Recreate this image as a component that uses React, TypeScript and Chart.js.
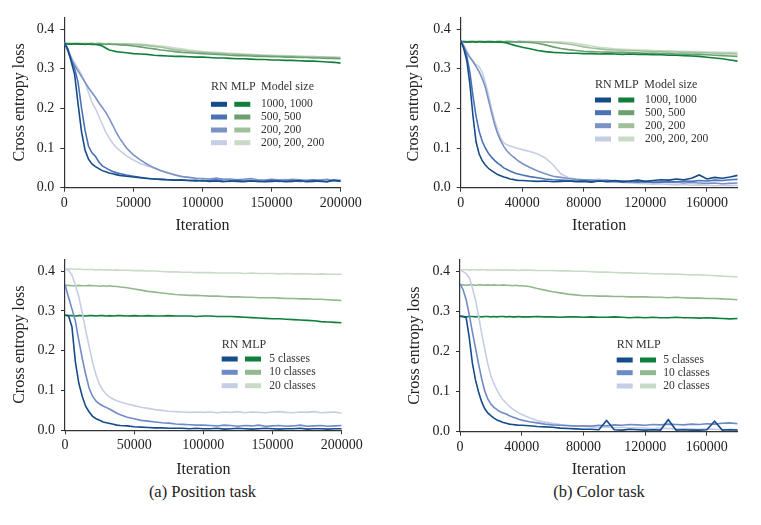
import React, { useEffect, useRef } from "react";
import { Chart, registerables } from "chart.js";

Chart.register(...registerables);

// ---------- shared text ----------
const Y_TITLE = "Cross entropy loss";
const X_TITLE = "Iteration";
const MODEL_SIZES = ["1000, 1000", "500, 500", "200, 200", "200, 200, 200"];
const CLASS_LABELS = ["5 classes", "10 classes", "20 classes"];
const CAPTIONS = ["(a) Position task", "(b) Color task"];

// ---------- tick values ----------
const Y_TICKS = [0, 0.1, 0.2, 0.3, 0.4];
const POS_X_TICKS = [0, 50000, 100000, 150000, 200000];
const COL_X_TICKS = [0, 40000, 80000, 120000, 160000];

// ---------- iterations ----------
// position task: 0–40000 every 2500, then every 5000 up to 200000
const P_ITER = [
  0, 2500, 5000, 7500, 10000, 12500, 15000, 17500, 20000, 22500, 25000, 27500, 30000, 32500, 35000, 37500, 40000,
  45000, 50000, 55000, 60000, 65000, 70000, 75000, 80000,
  85000, 90000, 95000, 100000, 105000, 110000, 115000, 120000,
  125000, 130000, 135000, 140000, 145000, 150000, 155000, 160000,
  165000, 170000, 175000, 180000, 185000, 190000, 195000, 200000,
];
// color task: 0–40000 every 2000, then every 5000 up to 180000
const C_ITER = [
  0, 2000, 4000, 6000, 8000, 10000, 12000, 14000, 16000, 18000, 20000, 22000, 24000, 26000, 28000, 30000, 32000, 34000, 36000, 38000, 40000,
  45000, 50000, 55000, 60000, 65000, 70000, 75000,
  80000, 85000, 90000, 95000, 100000, 105000, 110000,
  115000, 120000, 125000, 130000, 135000, 140000, 145000,
  150000, 155000, 160000, 165000, 170000, 175000, 180000,
];

// ---------- (a) position task, model size ----------
const POS_RN_1000 = [
  0.366, 0.348, 0.318, 0.285, 0.21, 0.14, 0.095, 0.072, 0.06, 0.053, 0.048, 0.043, 0.04, 0.037, 0.035, 0.033, 0.031,
  0.029, 0.027, 0.025, 0.023, 0.022, 0.021, 0.02, 0.019,
  0.019, 0.018, 0.017, 0.018, 0.016, 0.017, 0.015, 0.017,
  0.016, 0.015, 0.017, 0.016, 0.015, 0.016, 0.017, 0.015,
  0.016, 0.018, 0.015, 0.016, 0.017, 0.015, 0.019, 0.016,
];
const POS_RN_500 = [
  0.366, 0.35, 0.325, 0.3, 0.265, 0.2, 0.145, 0.105, 0.088, 0.079, 0.065, 0.055, 0.05, 0.045, 0.041, 0.038, 0.036,
  0.032, 0.029, 0.026, 0.024, 0.022, 0.021, 0.02, 0.019,
  0.02, 0.018, 0.019, 0.017, 0.018, 0.02, 0.017, 0.016,
  0.019, 0.017, 0.018, 0.016, 0.017, 0.019, 0.016, 0.017,
  0.018, 0.016, 0.017, 0.019, 0.016, 0.015, 0.018, 0.017,
];
const POS_RN_200 = [
  0.366, 0.345, 0.322, 0.308, 0.294, 0.28, 0.266, 0.252, 0.24, 0.228, 0.214, 0.202, 0.19, 0.175, 0.158, 0.14, 0.125,
  0.1, 0.083, 0.07, 0.059, 0.05, 0.043, 0.037, 0.032,
  0.028, 0.026, 0.024, 0.023, 0.022, 0.024, 0.021, 0.022,
  0.02, 0.021, 0.023, 0.02, 0.019, 0.021, 0.02, 0.019,
  0.021, 0.02, 0.018, 0.02, 0.019, 0.021, 0.018, 0.019,
];
const POS_RN_200x3 = [
  0.366, 0.35, 0.33, 0.315, 0.3, 0.285, 0.265, 0.24, 0.215, 0.2, 0.18, 0.16, 0.14, 0.125, 0.112, 0.102, 0.094,
  0.08, 0.07, 0.061, 0.055, 0.049, 0.043, 0.038, 0.033,
  0.029, 0.026, 0.024, 0.022, 0.021, 0.02, 0.022, 0.019,
  0.02, 0.021, 0.019, 0.02, 0.018, 0.02, 0.019, 0.021,
  0.018, 0.019, 0.02, 0.018, 0.019, 0.02, 0.018, 0.019,
];
const POS_MLP_1000 = [
  0.363, 0.362, 0.362, 0.363, 0.362, 0.362, 0.361, 0.362, 0.361, 0.361, 0.36, 0.357, 0.352, 0.347, 0.345, 0.343, 0.342,
  0.34, 0.338, 0.337, 0.336, 0.334, 0.333, 0.332, 0.331,
  0.331, 0.33, 0.329, 0.329, 0.328, 0.327, 0.327, 0.326,
  0.325, 0.325, 0.324, 0.323, 0.323, 0.322, 0.322, 0.321,
  0.321, 0.32, 0.319, 0.319, 0.318, 0.317, 0.316, 0.314,
];
const POS_MLP_500 = [
  0.363, 0.363, 0.362, 0.363, 0.363, 0.362, 0.363, 0.362, 0.363, 0.362, 0.362, 0.362, 0.361, 0.362, 0.361, 0.361, 0.36,
  0.359, 0.357, 0.355, 0.352, 0.35, 0.347, 0.345, 0.343,
  0.341, 0.34, 0.339, 0.338, 0.337, 0.336, 0.335, 0.334,
  0.333, 0.333, 0.332, 0.331, 0.331, 0.33, 0.33, 0.329,
  0.329, 0.328, 0.328, 0.327, 0.327, 0.326, 0.326, 0.325,
];
const POS_MLP_200 = [
  0.364, 0.364, 0.363, 0.364, 0.364, 0.363, 0.364, 0.363, 0.364, 0.363, 0.364, 0.363, 0.363, 0.363, 0.362, 0.363, 0.362,
  0.362, 0.361, 0.36, 0.358, 0.356, 0.354, 0.351, 0.348,
  0.346, 0.344, 0.342, 0.341, 0.34, 0.339, 0.338, 0.337,
  0.336, 0.335, 0.335, 0.334, 0.333, 0.333, 0.332, 0.331,
  0.331, 0.33, 0.33, 0.329, 0.329, 0.328, 0.328, 0.327,
];
const POS_MLP_200x3 = [
  0.364, 0.364, 0.364, 0.363, 0.364, 0.364, 0.363, 0.364, 0.364, 0.363, 0.364, 0.364, 0.363, 0.364, 0.363, 0.363, 0.363,
  0.363, 0.362, 0.362, 0.361, 0.359, 0.357, 0.355, 0.352,
  0.35, 0.347, 0.345, 0.343, 0.342, 0.341, 0.34, 0.339,
  0.338, 0.337, 0.336, 0.335, 0.334, 0.334, 0.333, 0.333,
  0.332, 0.332, 0.331, 0.331, 0.33, 0.33, 0.329, 0.329,
];

// ---------- (b) color task, model size ----------
const COL_RN_1000 = [
  0.371, 0.35, 0.32, 0.26, 0.18, 0.115, 0.085, 0.068, 0.057, 0.049, 0.043, 0.038, 0.033, 0.03, 0.027, 0.025, 0.022, 0.021, 0.019, 0.018, 0.018,
  0.017, 0.016, 0.017, 0.015, 0.016, 0.017, 0.015,
  0.016, 0.014, 0.017, 0.016, 0.018, 0.016, 0.017,
  0.019, 0.016, 0.018, 0.02, 0.019, 0.022, 0.02,
  0.024, 0.032, 0.022, 0.026, 0.024, 0.027, 0.031,
];
const COL_RN_500 = [
  0.371, 0.355, 0.33, 0.29, 0.23, 0.18, 0.142, 0.117, 0.1, 0.087, 0.077, 0.069, 0.062, 0.056, 0.05, 0.046, 0.042, 0.039, 0.036, 0.034, 0.032,
  0.028, 0.025, 0.022, 0.02, 0.019, 0.018, 0.017,
  0.018, 0.016, 0.017, 0.015, 0.016, 0.014, 0.015,
  0.014, 0.015, 0.013, 0.014, 0.016, 0.015, 0.017,
  0.016, 0.018, 0.017, 0.019, 0.018, 0.02, 0.021,
];
const COL_RN_200 = [
  0.371, 0.355, 0.34, 0.328, 0.318, 0.305, 0.292, 0.275, 0.253, 0.222, 0.19, 0.16, 0.136, 0.118, 0.104, 0.093, 0.085, 0.078, 0.072, 0.066, 0.061,
  0.051, 0.042, 0.035, 0.029, 0.026, 0.023, 0.021,
  0.02, 0.019, 0.018, 0.019, 0.017, 0.016, 0.017,
  0.015, 0.016, 0.014, 0.015, 0.013, 0.014, 0.012,
  0.013, 0.012, 0.011, 0.012, 0.01, 0.011, 0.012,
];
const COL_RN_200x3 = [
  0.371, 0.36, 0.345, 0.33, 0.318, 0.31, 0.305, 0.29, 0.265, 0.235, 0.2, 0.17, 0.145, 0.125, 0.113, 0.108, 0.105, 0.103, 0.1, 0.098, 0.096,
  0.091, 0.085, 0.075, 0.058, 0.035, 0.025, 0.022,
  0.02, 0.019, 0.022, 0.016, 0.015, 0.013, 0.012,
  0.011, 0.01, 0.009, 0.01, 0.008, 0.007, 0.008,
  0.006, 0.007, 0.006, 0.005, 0.006, 0.005, 0.006,
];
const COL_MLP_1000 = [
  0.368, 0.368, 0.367, 0.368, 0.368, 0.367, 0.368, 0.368, 0.367, 0.368, 0.367, 0.368, 0.367, 0.367, 0.366, 0.365, 0.362, 0.36, 0.358, 0.356, 0.354,
  0.35, 0.346, 0.343, 0.341, 0.34, 0.339, 0.339,
  0.338, 0.338, 0.337, 0.338, 0.337, 0.336, 0.337,
  0.336, 0.336, 0.335, 0.335, 0.334, 0.334, 0.333,
  0.332, 0.331, 0.329, 0.327, 0.325, 0.322, 0.319,
];
const COL_MLP_500 = [
  0.368, 0.368, 0.368, 0.367, 0.368, 0.368, 0.368, 0.367, 0.368, 0.368, 0.367, 0.368, 0.368, 0.367, 0.368, 0.368, 0.367, 0.368, 0.367, 0.367, 0.367,
  0.366, 0.364, 0.36, 0.355, 0.351, 0.348, 0.346,
  0.344, 0.343, 0.342, 0.342, 0.341, 0.341, 0.34,
  0.34, 0.339, 0.339, 0.338, 0.338, 0.337, 0.337,
  0.336, 0.336, 0.335, 0.334, 0.333, 0.332, 0.331,
];
const COL_MLP_200 = [
  0.369, 0.369, 0.368, 0.369, 0.369, 0.368, 0.369, 0.369, 0.368, 0.369, 0.369, 0.368, 0.369, 0.369, 0.368, 0.369, 0.369, 0.368, 0.368, 0.369, 0.368,
  0.368, 0.368, 0.367, 0.366, 0.364, 0.362, 0.359,
  0.355, 0.352, 0.35, 0.348, 0.347, 0.346, 0.345,
  0.345, 0.344, 0.343, 0.343, 0.342, 0.342, 0.341,
  0.341, 0.34, 0.34, 0.339, 0.338, 0.338, 0.337,
];
const COL_MLP_200x3 = [
  0.369, 0.369, 0.369, 0.368, 0.369, 0.369, 0.369, 0.368, 0.369, 0.369, 0.369, 0.368, 0.369, 0.369, 0.368, 0.369, 0.369, 0.369, 0.368, 0.369, 0.369,
  0.369, 0.368, 0.368, 0.368, 0.367, 0.366, 0.364,
  0.36, 0.357, 0.354, 0.352, 0.35, 0.349, 0.348,
  0.347, 0.347, 0.346, 0.345, 0.345, 0.344, 0.344,
  0.343, 0.343, 0.342, 0.342, 0.341, 0.341, 0.341,
];

// ---------- (a) position task, number of classes ----------
const POSC_RN_5 = [
  0.289, 0.288, 0.26, 0.172, 0.118, 0.085, 0.06, 0.046, 0.035, 0.029, 0.025, 0.021, 0.019, 0.017, 0.015, 0.013, 0.012,
  0.011, 0.009, 0.008, 0.007, 0.006, 0.006, 0.005, 0.005,
  0.005, 0.004, 0.005, 0.004, 0.004, 0.005, 0.003, 0.004,
  0.005, 0.004, 0.003, 0.004, 0.005, 0.004, 0.003, 0.004,
  0.004, 0.005, 0.003, 0.004, 0.004, 0.003, 0.004, 0.004,
];
const POSC_RN_10 = [
  0.366, 0.335, 0.305, 0.275, 0.225, 0.18, 0.14, 0.105, 0.085, 0.073, 0.066, 0.061, 0.057, 0.053, 0.048, 0.043, 0.039,
  0.033, 0.029, 0.025, 0.023, 0.021, 0.019, 0.018, 0.016,
  0.015, 0.014, 0.013, 0.013, 0.012, 0.011, 0.013, 0.012,
  0.01, 0.012, 0.011, 0.013, 0.01, 0.011, 0.012, 0.01,
  0.011, 0.013, 0.01, 0.011, 0.012, 0.01, 0.011, 0.012,
];
const POSC_RN_20 = [
  0.405, 0.402, 0.39, 0.365, 0.335, 0.295, 0.25, 0.21, 0.17, 0.138, 0.115, 0.1, 0.09, 0.083, 0.078, 0.074, 0.071,
  0.066, 0.062, 0.058, 0.055, 0.052, 0.05, 0.048, 0.047,
  0.046, 0.045, 0.046, 0.045, 0.046, 0.044, 0.046, 0.045,
  0.047, 0.044, 0.046, 0.045, 0.044, 0.046, 0.047, 0.045,
  0.044, 0.046, 0.045, 0.047, 0.044, 0.045, 0.046, 0.043,
];
const POSC_MLP_5 = [
  0.289, 0.288, 0.288, 0.287, 0.288, 0.288, 0.287, 0.288, 0.288, 0.287, 0.288, 0.288, 0.287, 0.288, 0.287, 0.288, 0.288,
  0.287, 0.288, 0.287, 0.288, 0.287, 0.287, 0.288, 0.287,
  0.287, 0.287, 0.286, 0.287, 0.287, 0.286, 0.286, 0.286,
  0.285, 0.284, 0.283, 0.282, 0.281, 0.28, 0.28, 0.279,
  0.278, 0.277, 0.276, 0.275, 0.273, 0.272, 0.271, 0.27,
];
const POSC_MLP_10 = [
  0.364, 0.364, 0.363, 0.363, 0.364, 0.363, 0.363, 0.364, 0.363, 0.363, 0.362, 0.363, 0.362, 0.363, 0.362, 0.361, 0.36,
  0.358, 0.355, 0.352, 0.349, 0.347, 0.345, 0.343, 0.341,
  0.34, 0.339, 0.339, 0.338, 0.337, 0.337, 0.336, 0.335,
  0.335, 0.334, 0.334, 0.333, 0.333, 0.333, 0.332, 0.331,
  0.331, 0.33, 0.33, 0.329, 0.329, 0.328, 0.327, 0.326,
];
const POSC_MLP_20 = [
  0.405, 0.405, 0.405, 0.404, 0.405, 0.404, 0.404, 0.404, 0.404, 0.403, 0.404, 0.403, 0.403, 0.403, 0.402, 0.403, 0.402,
  0.402, 0.401, 0.401, 0.4, 0.4, 0.399, 0.398, 0.398,
  0.397, 0.397, 0.396, 0.396, 0.396, 0.395, 0.395, 0.395,
  0.395, 0.394, 0.395, 0.394, 0.394, 0.394, 0.393, 0.394,
  0.393, 0.393, 0.393, 0.392, 0.393, 0.392, 0.392, 0.392,
];

// ---------- (b) color task, number of classes ----------
const COLC_RN_5 = [
  0.289, 0.288, 0.285, 0.235, 0.172, 0.13, 0.1, 0.075, 0.058, 0.047, 0.04, 0.034, 0.029, 0.026, 0.023, 0.021, 0.019, 0.018, 0.017, 0.016, 0.016,
  0.015, 0.013, 0.012, 0.011, 0.009, 0.008, 0.007,
  0.006, 0.006, 0.005, 0.028, 0.005, 0.004, 0.006,
  0.005, 0.004, 0.005, 0.004, 0.03, 0.004, 0.005,
  0.004, 0.004, 0.005, 0.026, 0.004, 0.005, 0.004,
];
const COLC_RN_10 = [
  0.37, 0.355, 0.33, 0.292, 0.25, 0.21, 0.17, 0.133, 0.102, 0.082, 0.069, 0.061, 0.055, 0.05, 0.047, 0.044, 0.04, 0.037, 0.034, 0.031, 0.029,
  0.025, 0.022, 0.019, 0.017, 0.016, 0.015, 0.014,
  0.015, 0.014, 0.016, 0.015, 0.017, 0.016, 0.018,
  0.017, 0.016, 0.018, 0.017, 0.019, 0.018, 0.017,
  0.019, 0.018, 0.02, 0.019, 0.021, 0.022, 0.02,
];
const COLC_RN_20 = [
  0.405, 0.4, 0.395, 0.385, 0.36, 0.33, 0.29, 0.247, 0.207, 0.17, 0.14, 0.12, 0.104, 0.09, 0.079, 0.071, 0.063, 0.057, 0.052, 0.047, 0.043,
  0.035, 0.028, 0.024, 0.021, 0.018, 0.016, 0.014,
  0.013, 0.012, 0.011, 0.012, 0.01, 0.011, 0.009,
  0.01, 0.009, 0.008, 0.009, 0.008, 0.007, 0.008,
  0.007, 0.006, 0.007, 0.006, 0.005, 0.006, 0.005,
];
const COLC_MLP_5 = [
  0.288, 0.288, 0.287, 0.288, 0.288, 0.287, 0.288, 0.287, 0.288, 0.288, 0.287, 0.288, 0.287, 0.288, 0.288, 0.287, 0.288, 0.287, 0.287, 0.288, 0.287,
  0.287, 0.288, 0.287, 0.287, 0.286, 0.287, 0.287,
  0.286, 0.287, 0.286, 0.286, 0.287, 0.286, 0.285,
  0.286, 0.285, 0.286, 0.285, 0.285, 0.286, 0.285,
  0.285, 0.284, 0.285, 0.284, 0.283, 0.282, 0.283,
];
const COLC_MLP_10 = [
  0.367, 0.367, 0.366, 0.367, 0.367, 0.366, 0.367, 0.367, 0.366, 0.367, 0.366, 0.367, 0.366, 0.366, 0.367, 0.366, 0.366, 0.365, 0.366, 0.365, 0.365,
  0.363, 0.358, 0.354, 0.35, 0.347, 0.344, 0.342,
  0.34, 0.34, 0.339, 0.339, 0.338, 0.338, 0.337,
  0.337, 0.337, 0.336, 0.336, 0.335, 0.336, 0.335,
  0.334, 0.334, 0.333, 0.333, 0.332, 0.331, 0.33,
];
const COLC_MLP_20 = [
  0.405, 0.405, 0.405, 0.404, 0.405, 0.405, 0.404, 0.405, 0.405, 0.404, 0.405, 0.404, 0.405, 0.404, 0.404, 0.405, 0.404, 0.404, 0.404, 0.403, 0.404,
  0.404, 0.403, 0.403, 0.403, 0.402, 0.402, 0.401,
  0.401, 0.4, 0.399, 0.399, 0.398, 0.397, 0.397,
  0.396, 0.396, 0.395, 0.395, 0.394, 0.394, 0.393,
  0.392, 0.392, 0.391, 0.39, 0.389, 0.388, 0.387,
];

// ---------- colours ----------
const RN4 = ["#154c8a", "#4a72b5", "#7b92c7", "#c6cee6"];
const MLP4 = ["#0f7f3c", "#6c9f71", "#9fc19a", "#c9dbc7"];
const RN3 = ["#154c8a", "#6f8bc6", "#c6cee6"];
const MLP3 = ["#0f7f3c", "#92b98e", "#c9dbc7"];

const FONT = '"Liberation Serif", "Times New Roman", serif';
const INK = "#222";

type LegendDef = {
  headerY: number;
  rnX: number;
  mlpX: number;
  hdrX: number | null;
  rowsY: number[];
  blueX: number;
  greenX: number;
  textX: number;
};

type PanelDef = {
  left: number;
  top: number;
  w: number;
  h: number;
  area: [number, number, number, number]; // l, t, r, b (canvas px)
  iters: number[];
  xMax: number;
  xTicks: number[];
  rn: number[][];
  mlp: number[][];
  rnColors: string[];
  mlpColors: string[];
  labels: string[];
  header: string | null;
  yTitlePad: number;
  xTitlePad: number;
  legend: LegendDef;
};

const PANELS: PanelDef[] = [
  {
    left: 0, top: 0, w: 380, h: 240, area: [64.3, 17.1, 340.7, 187.7],
    iters: P_ITER, xMax: 200000, xTicks: POS_X_TICKS,
    rn: [POS_RN_1000, POS_RN_500, POS_RN_200, POS_RN_200x3],
    mlp: [POS_MLP_1000, POS_MLP_500, POS_MLP_200, POS_MLP_200x3],
    rnColors: RN4, mlpColors: MLP4, labels: MODEL_SIZES, header: "Model size",
    yTitlePad: 10.4, xTitlePad: 4.4,
    legend: { headerY: 87, rnX: 211, mlpX: 231, hdrX: 261, rowsY: [104.3, 117, 130, 142.7], blueX: 211, greenX: 234.3, textX: 261 },
  },
  {
    left: 380, top: 0, w: 381, h: 240, area: [80.7, 17.1, 357.7, 187.7],
    iters: C_ITER, xMax: 180000, xTicks: COL_X_TICKS,
    rn: [COL_RN_1000, COL_RN_500, COL_RN_200, COL_RN_200x3],
    mlp: [COL_MLP_1000, COL_MLP_500, COL_MLP_200, COL_MLP_200x3],
    rnColors: RN4, mlpColors: MLP4, labels: MODEL_SIZES, header: "Model size",
    yTitlePad: 24.4, xTitlePad: 4.4,
    legend: { headerY: 85, rnX: 215, mlpX: 234, hdrX: 264.3, rowsY: [100, 112.7, 125.7, 139], blueX: 215, greenX: 238.3, textX: 265 },
  },
  {
    left: 0, top: 240, w: 380, h: 240, area: [65, 19.1, 341.7, 190.3],
    iters: P_ITER, xMax: 200000, xTicks: POS_X_TICKS,
    rn: [POSC_RN_5, POSC_RN_10, POSC_RN_20],
    mlp: [POSC_MLP_5, POSC_MLP_10, POSC_MLP_20],
    rnColors: RN3, mlpColors: MLP3, labels: CLASS_LABELS, header: null,
    yTitlePad: 10.4, xTitlePad: 0.6,
    legend: { headerY: 105, rnX: 221.7, mlpX: 241.5, hdrX: null, rowsY: [119, 132.3, 145.7], blueX: 221.7, greenX: 245, textX: 269.3 },
  },
  {
    left: 380, top: 240, w: 381, h: 240, area: [80, 19.7, 357.7, 191.7],
    iters: C_ITER, xMax: 180000, xTicks: COL_X_TICKS,
    rn: [COLC_RN_5, COLC_RN_10, COLC_RN_20],
    mlp: [COLC_MLP_5, COLC_MLP_10, COLC_MLP_20],
    rnColors: RN3, mlpColors: MLP3, labels: CLASS_LABELS, header: null,
    yTitlePad: 25.4, xTitlePad: 0.6,
    legend: { headerY: 105, rnX: 236.7, mlpX: 256, hdrX: null, rowsY: [120, 132.7, 146], blueX: 236.7, greenX: 260, textX: 283.3 },
  },
];

function legendPlugin(p: PanelDef) {
  return {
    id: "panelLegend",
    afterDraw(chart: any) {
      const ctx: CanvasRenderingContext2D = chart.ctx;
      const L = p.legend;
      ctx.save();
      ctx.textBaseline = "middle";
      ctx.textAlign = "left";
      ctx.fillStyle = "#333";
      ctx.font = `12px ${FONT}`;
      ctx.fillText("RN", L.rnX, L.headerY);
      ctx.fillText("MLP", L.mlpX, L.headerY);
      if (p.header && L.hdrX !== null) ctx.fillText(p.header, L.hdrX, L.headerY);
      ctx.font = `11.5px ${FONT}`;
      p.labels.forEach((lab, i) => {
        const y = L.rowsY[i];
        ctx.fillStyle = p.rnColors[i];
        ctx.fillRect(L.blueX, y - 2.5, 16, 5);
        ctx.fillStyle = p.mlpColors[i];
        ctx.fillRect(L.greenX, y - 2.5, 16, 5);
        ctx.fillStyle = "#333";
        ctx.fillText(lab, L.textX, y);
      });
      ctx.restore();
    },
  };
}

function buildConfig(p: PanelDef): any {
  const [l, t, r, b] = p.area;
  const mk = (vals: number[], color: string) => ({
    data: p.iters.map((x, i) => ({ x, y: vals[i] })),
    borderColor: color,
    backgroundColor: color,
    borderWidth: 1.6,
    pointRadius: 0,
    tension: 0,
    fill: false,
  });
  const datasets = [
    ...p.rn.map((v, i) => mk(v, p.rnColors[i])),
    ...p.mlp.map((v, i) => mk(v, p.mlpColors[i])),
  ];
  const gridOpts = { display: true, drawOnChartArea: false, drawTicks: true, tickLength: 4, color: "#333", lineWidth: 1 };
  const borderOpts = { display: true, color: "#333", width: 1.2 };
  return {
    type: "line",
    data: { datasets },
    options: {
      animation: false,
      responsive: false,
      devicePixelRatio: 1,
      layout: { padding: { left: 0, top: t, right: p.w - r, bottom: 0 } },
      plugins: { legend: { display: false }, tooltip: { enabled: false } },
      scales: {
        x: {
          type: "linear",
          min: 0,
          max: p.xMax,
          afterFit: (s: any) => { s.height = p.h - b; },
          afterBuildTicks: (s: any) => { s.ticks = p.xTicks.map((v) => ({ value: v })); },
          ticks: {
            maxRotation: 0,
            autoSkip: false,
            padding: 3,
            color: INK,
            font: { family: FONT, size: 14 },
            callback: (v: any) => String(v),
          },
          grid: gridOpts,
          border: borderOpts,
          title: {
            display: true,
            text: X_TITLE,
            color: INK,
            font: { family: FONT, size: 16, lineHeight: 1.2 },
            padding: { top: 0, bottom: p.xTitlePad },
          },
        },
        y: {
          type: "linear",
          min: 0,
          max: 0.43,
          afterFit: (s: any) => { s.width = l; },
          afterBuildTicks: (s: any) => { s.ticks = Y_TICKS.map((v) => ({ value: v })); },
          ticks: {
            padding: 6,
            color: INK,
            font: { family: FONT, size: 14 },
            callback: (v: any) => Number(v).toFixed(1),
          },
          grid: gridOpts,
          border: borderOpts,
          title: {
            display: true,
            text: Y_TITLE,
            color: INK,
            font: { family: FONT, size: 16, lineHeight: 1.2 },
            padding: { top: p.yTitlePad, bottom: 0 },
          },
        },
      },
    },
    plugins: [legendPlugin(p)],
  };
}

function Panel({ p }: { p: PanelDef }) {
  const ref = useRef<HTMLCanvasElement | null>(null);
  useEffect(() => {
    if (!ref.current) return;
    const chart = new Chart(ref.current, buildConfig(p));
    return () => chart.destroy();
  }, [p]);
  return (
    <canvas
      ref={ref}
      width={p.w}
      height={p.h}
      style={{ position: "absolute", left: p.left, top: p.top, width: p.w, height: p.h, display: "block" }}
    />
  );
}

export default function App() {
  return (
    <div style={{ position: "absolute", left: 0, top: 0, width: 761, height: 525, background: "#fff", overflow: "hidden" }}>
      {PANELS.map((p, i) => (
        <Panel key={i} p={p} />
      ))}
      {CAPTIONS.map((c, i) => (
        <div
          key={c}
          style={{
            position: "absolute",
            left: (i === 0 ? 202.5 : 599) - 150,
            top: 482,
            width: 300,
            textAlign: "center",
            fontFamily: FONT,
            fontSize: 16.5,
            lineHeight: "20px",
            color: INK,
          }}
        >
          {c}
        </div>
      ))}
    </div>
  );
}
